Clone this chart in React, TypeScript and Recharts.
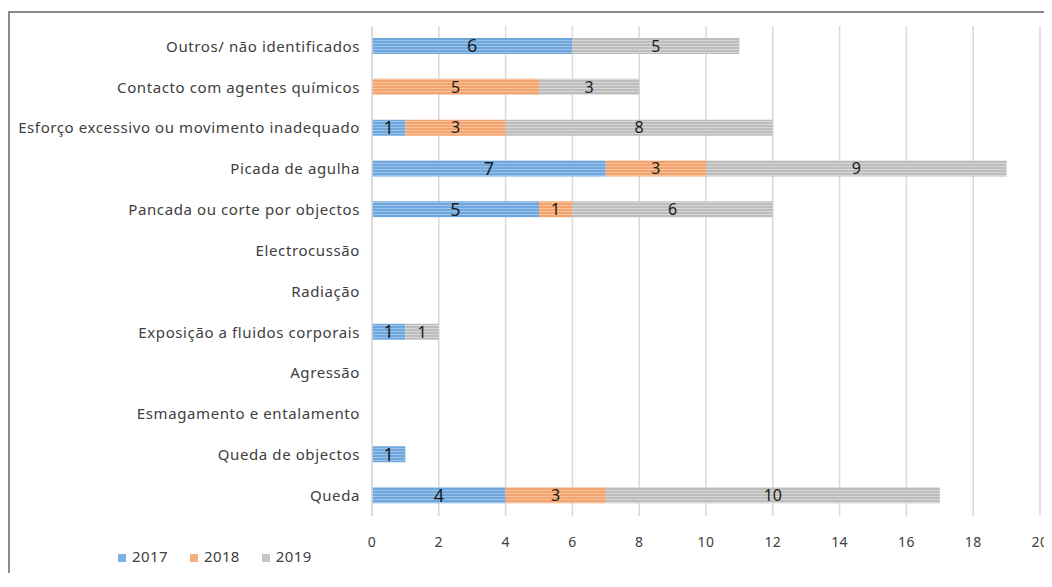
import React from "react";
import {
  Bar,
  BarChart,
  CartesianGrid,
  LabelList,
  Legend,
  XAxis,
  YAxis,
} from "recharts";

const categories = [
  "Outros/ não identificados",
  "Contacto com agentes químicos",
  "Esforço excessivo ou movimento inadequado",
  "Picada de agulha",
  "Pancada ou corte por objectos",
  "Electrocussão",
  "Radiação",
  "Exposição a fluidos corporais",
  "Agressão",
  "Esmagamento e entalamento",
  "Queda de objectos",
  "Queda",
];

const values2017 = [6, null, 1, 7, 5, null, null, 1, null, null, 1, 4];
const values2018 = [null, 5, 3, 3, 1, null, null, null, null, null, null, 3];
const values2019 = [5, 3, 8, 9, 6, null, null, 1, null, null, null, 10];

const xTicks = [0, 2, 4, 6, 8, 10, 12, 14, 16, 18, 20];

const data = categories.map((name, i) => ({
  name,
  y2017: values2017[i],
  y2018: values2018[i],
  y2019: values2019[i],
}));

const FONT = "'Noto Sans', sans-serif";

const series = [
  { key: "y2017", label: "2017", color: "#6fa7dc", stripe: "#9cc3ea", labelSize: 18 },
  { key: "y2018", label: "2018", color: "#f3a36d", stripe: "#f8c29c", labelSize: 16 },
  { key: "y2019", label: "2019", color: "#bdbdbd", stripe: "#d6d6d6", labelSize: 16 },
];

const showValue = (v: unknown) => (v ? String(v) : "");

export default function App() {
  return (
    <div
      style={{
        marginTop: 3,
        width: 1042,
        height: 560,
        borderTop: "2px solid #8a8a8a",
        borderLeft: "2px solid #8a8a8a",
        fontFamily: FONT,
      }}
    >
      <style>{".recharts-surface { overflow: visible; }"}</style>
      <BarChart
        width={1040}
        height={560}
        data={data}
        layout="vertical"
        margin={{ top: 13, right: 10, bottom: 7, left: 0 }}
        barSize={16}
      >
        <defs>
          {series.map((s) => (
            <pattern
              key={s.key}
              id={`stripe${s.label}`}
              width={4}
              height={3}
              patternUnits="userSpaceOnUse"
            >
              <rect width={4} height={3} fill={s.color} />
              <rect width={4} height={1} fill={s.stripe} />
            </pattern>
          ))}
        </defs>
        <CartesianGrid horizontal={false} stroke="#d9d9d9" strokeWidth={1.5} />
        <XAxis
          type="number"
          domain={[0, 20]}
          ticks={xTicks}
          axisLine={false}
          tickLine={false}
          tickMargin={15}
          height={30}
          tick={{ fontSize: 14, fill: "#404040", fontFamily: FONT, letterSpacing: 0.4 }}
        />
        <YAxis
          type="category"
          dataKey="name"
          width={362}
          axisLine={{ stroke: "#d9d9d9", strokeWidth: 1.5 }}
          tickLine={false}
          tickMargin={6}
          interval={0}
          tick={{ fontSize: 15, fill: "#404040", fontFamily: FONT, letterSpacing: 0.6 }}
        />
        <Legend
          verticalAlign="bottom"
          align="left"
          iconType="square"
          iconSize={8}
          wrapperStyle={{ left: 108, width: "auto", fontSize: 15, fontFamily: FONT, letterSpacing: 0.4 }}
          formatter={(value) => (
            <span style={{ color: "#404040", marginLeft: 2, marginRight: 12 }}>{value}</span>
          )}
        />
        {series.map((s) => (
          <Bar
            key={s.key}
            dataKey={s.key}
            name={s.label}
            stackId="a"
            fill={`url(#stripe${s.label})`}
            legendType="square"
            isAnimationActive={false}
          >
            <LabelList
              dataKey={s.key}
              position="center"
              formatter={showValue}
              fill="#1a1a1a"
              fontSize={s.labelSize}
              fontFamily={FONT}
            />
          </Bar>
        ))}
      </BarChart>
    </div>
  );
}
